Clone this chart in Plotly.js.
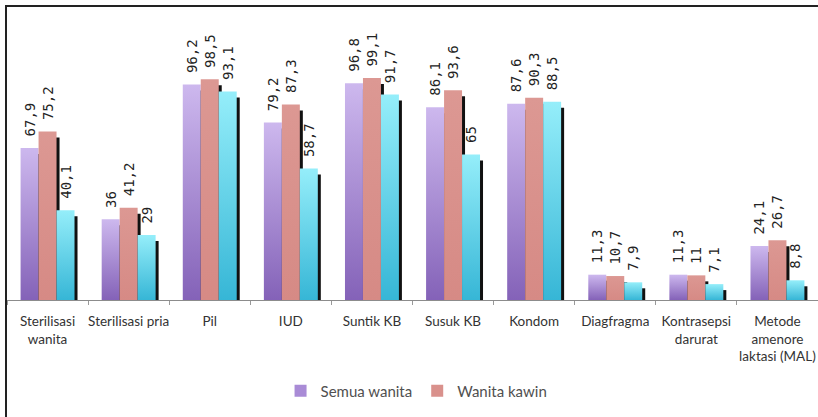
<!DOCTYPE html>
<html>
<head>
<meta charset="utf-8">
<script src="https://cdn.plot.ly/plotly-3.0.1.min.js"></script>
<style>
html,body{margin:0;padding:0;background:#fff;overflow:hidden;}
#wrap{position:relative;width:818px;height:417px;}
#chart{position:absolute;left:0;top:0;width:818px;height:417px;}
#frame{position:absolute;left:5px;top:5px;width:900px;height:500px;border:2px solid #222;pointer-events:none;}
.barlayer .point path{filter:drop-shadow(3px 6px 0px #111);}
</style>
</head>
<body>
<div id="wrap"><div id="chart"></div><div id="frame"></div></div>
<script>
const categories = [
  "Sterilisasi<br>wanita", "Sterilisasi pria", "Pil", "IUD", "Suntik KB",
  "Susuk KB", "Kondom", "Diagfragma", "Kontrasepsi<br>darurat",
  "Metode<br>amenore<br>laktasi (MAL)"
];
const semuaWanita = [67.9, 36, 96.2, 79.2, 96.8, 86.1, 87.6, 11.3, 11.3, 24.1];
const wanitaKawin = [75.2, 41.2, 98.5, 87.3, 99.1, 93.6, 90.3, 10.7, 11, 26.7];
const seriKetiga  = [40.1, 29, 93.1, 58.7, 91.7, 65, 88.5, 7.9, 7.1, 8.8];
const seriesNames = ["Semua wanita", "Wanita kawin", "Seri 3"];

const fmt = v => "\u00a0" + String(v).replace(".", ",");
const labelFont = {family: "DejaVu Sans Mono", size: 14, color: "#222"};

function barTrace(name, vals, color, showLegend) {
  return {
    type: "bar", name: name, x: categories, y: vals,
    text: vals.map(fmt), textposition: "outside", textangle: -90,
    constraintext: "none", cliponaxis: false,
    textfont: labelFont,
    marker: {color: color, line: {width: 0}},
    showlegend: showLegend, hoverinfo: "x+y"
  };
}

const data = [
  barTrace(seriesNames[0], semuaWanita, "#a98bd6", true),
  barTrace(seriesNames[1], wanitaKawin, "#d9918c", true),
  barTrace(seriesNames[2], seriKetiga, "#64d3ea", false)
];

const layout = {
  width: 818, height: 417,
  margin: {l: 7, r: 0, t: 20, b: 117},
  paper_bgcolor: "#fff", plot_bgcolor: "#fff",
  barmode: "group", bargap: 0.335, bargroupgap: 0,
  xaxis: {
    type: "category", tickson: "boundaries", ticks: "outside", ticklen: 4,
    tickcolor: "#999", showline: true, linecolor: "#8c8c8c", linewidth: 1,
    ticklabelstandoff: 9,
    tickfont: {family: "Lato, sans-serif", size: 13.5, color: "#333"},
    tickangle: 0, showgrid: false, zeroline: false, fixedrange: true
  },
  yaxis: {visible: false, range: [0, 125], showgrid: false, zeroline: false, fixedrange: true},
  legend: {
    orientation: "h", x: 0.505, xanchor: "center", y: -0.325, yanchor: "middle",
    font: {family: "Lato, sans-serif", size: 15, color: "#505050"},
    itemwidth: 30, traceorder: "normal"
  },
  showlegend: true
};

Plotly.newPlot("chart", data, layout, {displayModeBar: false, staticPlot: true}).then(gd => {
  const svg = gd.querySelector("svg.main-svg");
  const ns = "http://www.w3.org/2000/svg";
  const defs = document.createElementNS(ns, "defs");
  const grads = [
    ["gPurple", "#cdb8ee", "#8462b8"],
    ["gSalmon", "#dc9893", "#d68a85"],
    ["gCyan", "#95eefa", "#36b6d6"]
  ];
  grads.forEach(([id, c1, c2]) => {
    const g = document.createElementNS(ns, "linearGradient");
    g.setAttribute("id", id);
    g.setAttribute("x1", "0"); g.setAttribute("y1", "0");
    g.setAttribute("x2", "0"); g.setAttribute("y2", "1");
    [[0, c1], [1, c2]].forEach(([o, c]) => {
      const s = document.createElementNS(ns, "stop");
      s.setAttribute("offset", o); s.setAttribute("stop-color", c);
      g.appendChild(s);
    });
    defs.appendChild(g);
  });
  svg.insertBefore(defs, svg.firstChild);
  const traces = gd.querySelectorAll(".barlayer .trace.bars");
  traces.forEach((t, i) => {
    t.querySelectorAll(".point path").forEach(p => {
      p.style.fill = "url(#" + grads[i][0] + ")";
    });
  });
});
</script>
</body>
</html>
